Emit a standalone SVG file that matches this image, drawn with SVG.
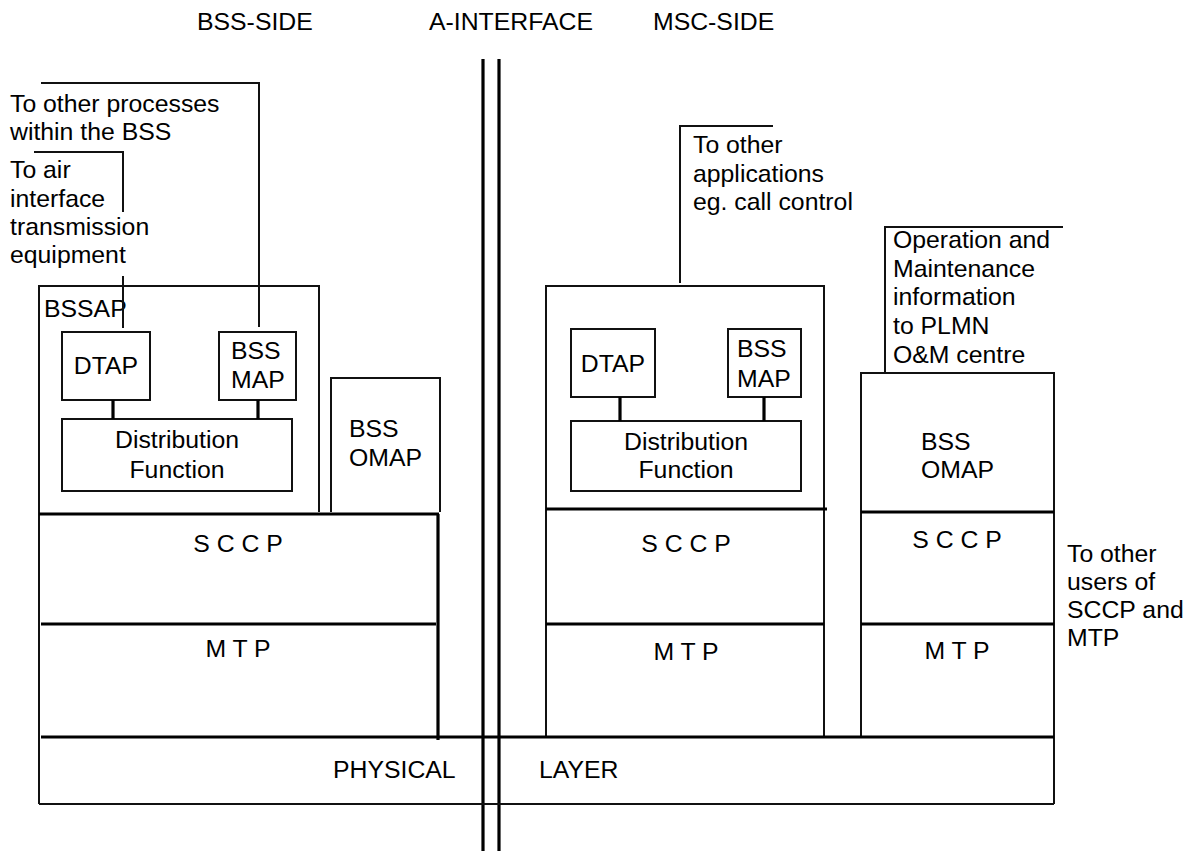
<svg xmlns="http://www.w3.org/2000/svg" width="1194" height="851" viewBox="0 0 1194 851">
<style>
text{font-family:"Liberation Sans",Arial,sans-serif;font-size:24.8px;fill:#000}
.c{text-anchor:middle}
.thin{fill:none;stroke:#111;stroke-width:2}
.thick{fill:none;stroke:#000;stroke-width:3.2}
</style>
<rect width="1194" height="851" fill="#fff"/>
<g id="headers">
<text x="197" y="30">BSS-SIDE</text>
<text x="429" y="30">A-INTERFACE</text>
<text x="653" y="30">MSC-SIDE</text>
</g>
<g id="a-interface">
<line class="thick" x1="483" y1="59" x2="483" y2="851"/>
<line class="thick" x1="499" y1="59" x2="499" y2="851"/>
</g>
<g id="bss-side">
<path class="thin" d="M39,804 V286 H319 V512"/>
<text x="44" y="317">BSSAP</text>
<g id="bss-dtap"><rect class="thin" x="62" y="332" width="88" height="68"/><text class="c" x="106" y="374">DTAP</text></g>
<g id="bss-bssmap"><rect class="thin" x="219" y="332" width="77" height="68"/><text x="231" y="359">BSS</text><text x="231" y="388">MAP</text></g>
<g id="bss-distribution"><rect class="thin" x="62" y="419" width="230" height="72"/><text class="c" x="177" y="448">Distribution</text><text class="c" x="177" y="478">Function</text></g>
<g id="bss-omap"><path class="thin" d="M331,512 V378 H440 V512"/><text x="349" y="437">BSS</text><text x="349" y="466">OMAP</text></g>
<g id="bss-sccp"><line class="thick" x1="39" y1="514" x2="439" y2="514"/><line class="thick" x1="438" y1="514" x2="438" y2="740"/><text x="238" y="552" class="c">S C C P</text></g>
<g id="bss-mtp"><line class="thick" x1="41" y1="624" x2="436" y2="624"/><text x="238" y="657" class="c">M T P</text></g>
</g>
<g id="msc-side">
<path class="thin" d="M546,737 V286 H824 V737"/>
<g id="msc-dtap"><rect class="thin" x="571" y="329" width="84" height="68"/><text class="c" x="613" y="372">DTAP</text></g>
<g id="msc-bssmap"><rect class="thin" x="728" y="329" width="73" height="68"/><text x="737" y="357">BSS</text><text x="737" y="387">MAP</text></g>
<g id="msc-distribution"><rect class="thin" x="571" y="421" width="230" height="70"/><text class="c" x="686" y="450">Distribution</text><text class="c" x="686" y="478">Function</text></g>
<g id="msc-sccp"><line class="thick" x1="546" y1="509" x2="827" y2="509"/><text x="686" y="552" class="c">S C C P</text></g>
<g id="msc-mtp"><line class="thick" x1="546" y1="624" x2="824" y2="624"/><text x="686" y="660" class="c">M T P</text></g>
</g>
<g id="msc-omap-stack">
<path class="thin" d="M861,737 V373 H1054 V804"/>
<text x="921" y="450">BSS</text><text x="921" y="478">OMAP</text>
<line class="thick" x1="861" y1="512" x2="1054" y2="512"/>
<text x="957" y="548" class="c">S C C P</text>
<line class="thick" x1="861" y1="624" x2="1054" y2="624"/>
<text x="957" y="659" class="c">M T P</text>
</g>
<g id="physical-layer">
<path class="thin" d="M39,804 H1054"/>
<line class="thick" x1="41" y1="737" x2="1054" y2="737"/>
<text x="333" y="778">PHYSICAL</text>
<text x="539" y="778">LAYER</text>
</g>
<g id="labels">
<text x="10" y="112">To other processes</text>
<text x="10" y="140">within the BSS</text>
<text x="10" y="178">To air</text>
<text x="10" y="207">interface</text>
<text x="10" y="235">transmission</text>
<text x="10" y="263">equipment</text>
<text x="693" y="153">To other</text>
<text x="693" y="182">applications</text>
<text x="693" y="210">eg. call control</text>
<text x="893" y="248">Operation and</text>
<text x="893" y="277">Maintenance</text>
<text x="893" y="305">information</text>
<text x="893" y="334">to PLMN</text>
<text x="893" y="363">O&amp;M centre</text>
<text x="1067" y="562">To other</text>
<text x="1067" y="590">users of</text>
<text x="1067" y="618">SCCP and</text>
<text x="1067" y="646">MTP</text>
</g>
<g id="connectors">
<path class="thin" d="M41,83 H259 V327"/>
<path class="thin" d="M34,152 H123 V212"/>
<line class="thin" x1="123" y1="276" x2="123" y2="328"/>
<path class="thin" d="M773,126 H680 V283"/>
<path class="thin" d="M1063,227 H885 V373"/>
<line class="thick" x1="113" y1="400" x2="113" y2="419"/>
<line class="thick" x1="258" y1="400" x2="258" y2="419"/>
<line class="thick" x1="620" y1="397" x2="620" y2="421"/>
<line class="thick" x1="764" y1="397" x2="764" y2="421"/>
</g>
</svg>
